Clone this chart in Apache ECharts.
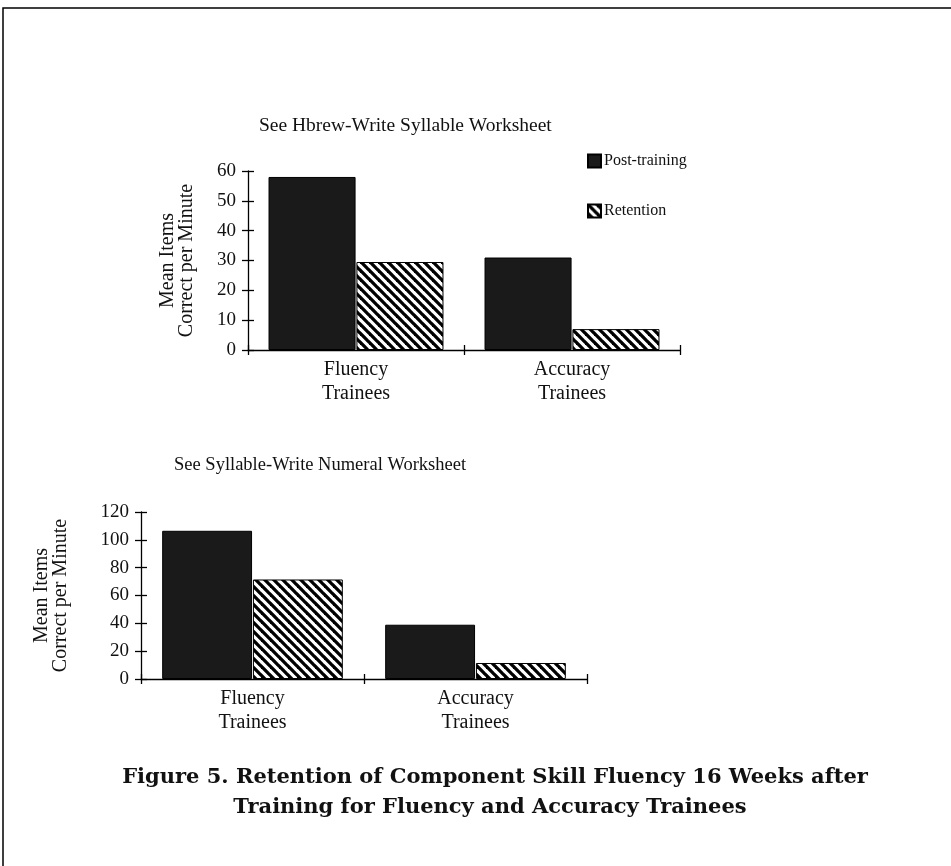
<!DOCTYPE html>
<html>
<head>
<meta charset="utf-8">
<script src="https://cdn.jsdelivr.net/npm/echarts@6/dist/echarts.min.js"></script>
<style>
  html, body { margin: 0; padding: 0; background: #fff; }
  #chart { width: 951px; height: 866px; }
</style>
</head>
<body>
<div id="chart"></div>
<script>
// data
const categories = ['Fluency\nTrainees', 'Accuracy\nTrainees'];
const seriesNames = ['Post-training', 'Retention'];
const hebrewPost = [58, 31];
const hebrewRet = [29.5, 7];
const numeralPost = [106.5, 39];
const numeralRet = [71.5, 11.5];
const hebrewTicks = { min: 0, max: 60, interval: 10 };
const numeralTicks = { min: 0, max: 120, interval: 20 };

const serif = 'Liberation Serif';
const ink = '#111';

// diagonal hatch for the retention bars
function hatch() {
  const s = 9;
  const c = document.createElement('canvas');
  c.width = s; c.height = s;
  const g = c.getContext('2d');
  g.fillStyle = '#fff';
  g.fillRect(0, 0, s, s);
  g.strokeStyle = '#000';
  g.lineWidth = 3.3;
  [-s, 0, s].forEach(function (k) {
    g.beginPath();
    g.moveTo(k - 2, -2);
    g.lineTo(k + s + 2, s + 2);
    g.stroke();
  });
  return { image: c, repeat: 'repeat' };
}
const hatchFill = hatch();
const darkFill = '#1a1a1a';

// two axes per side: one with outer ticks + labels, one with inner ticks, so ticks cross the line
function valueAxes(grid, ticks, nameGap) {
  return [
    {
      gridIndex: grid, type: 'value', position: 'left', min: ticks.min, max: ticks.max, interval: ticks.interval,
      name: 'Mean Items\nCorrect per Minute', nameLocation: 'middle', nameGap: nameGap, nameRotate: 90,
      nameTextStyle: { fontFamily: serif, fontSize: 20, color: ink, lineHeight: 19 },
      axisLine: { show: true, lineStyle: { color: '#000', width: 1.3 } },
      axisTick: { show: true, length: 6, lineStyle: { color: '#000', width: 1.3 } },
      axisLabel: { fontFamily: serif, fontSize: 19, color: ink, margin: 12 },
      splitLine: { show: false }
    },
    {
      gridIndex: grid, type: 'value', position: 'left', min: ticks.min, max: ticks.max, interval: ticks.interval,
      axisLine: { show: false },
      axisTick: { show: true, inside: true, length: 6, lineStyle: { color: '#000', width: 1.3 } },
      axisLabel: { show: false },
      splitLine: { show: false }
    }
  ];
}

function categoryAxes(grid) {
  return [
    {
      gridIndex: grid, type: 'category', position: 'bottom', data: categories,
      axisLine: { show: true, lineStyle: { color: '#000', width: 1.3 } },
      axisTick: { show: true, length: 5, lineStyle: { color: '#000', width: 1.3 } },
      axisLabel: { fontFamily: serif, fontSize: 20, color: ink, lineHeight: 24, margin: 8 }
    },
    {
      gridIndex: grid, type: 'category', position: 'bottom', data: categories,
      axisLine: { show: false },
      axisTick: { show: true, inside: true, length: 5, lineStyle: { color: '#000', width: 1.3 } },
      axisLabel: { show: false }
    }
  ];
}

function bar(name, axis, data, fill) {
  return {
    name: name, type: 'bar', xAxisIndex: axis, yAxisIndex: axis, data: data,
    barGap: '1%', barCategoryGap: '19%',
    itemStyle: { color: fill, borderColor: '#000', borderWidth: 1 },
    emphasis: { disabled: true }
  };
}

var myChart = echarts.init(document.getElementById('chart'));

var option = {
  animation: false,
  backgroundColor: '#fff',
  title: [
    { text: 'See Hbrew-Write Syllable Worksheet', left: 259, top: 116, padding: 0,
      textStyle: { fontFamily: serif, fontSize: 19.5, fontWeight: 'normal', color: ink } },
    { text: 'See Syllable-Write Numeral Worksheet', left: 174, top: 456, padding: 0,
      textStyle: { fontFamily: serif, fontSize: 18.5, fontWeight: 'normal', color: ink } }
  ],
  legend: {
    orient: 'vertical', left: 587, top: 153, padding: 0,
    itemWidth: 13, itemHeight: 13, itemGap: 34,
    icon: 'rect',
    data: seriesNames,
    textStyle: { fontFamily: serif, fontSize: 16, color: ink, padding: [0, 0, 0, -2] },
    selectedMode: false
  },
  grid: [
    { left: 248, right: 951 - 680, top: 171, height: 179 },
    { left: 141, right: 951 - 587, top: 512, height: 167 }
  ],
  xAxis: categoryAxes(0).concat(categoryAxes(1)),
  yAxis: valueAxes(0, hebrewTicks, 52).concat(valueAxes(1, numeralTicks, 71)),
  series: [
    bar(seriesNames[0], 0, hebrewPost, darkFill),
    bar(seriesNames[1], 0, hebrewRet, hatchFill),
    bar(seriesNames[0], 2, numeralPost, darkFill),
    bar(seriesNames[1], 2, numeralRet, hatchFill)
  ],
  graphic: [
    { type: 'rect', silent: true, shape: { x: 3, y: 8, width: 1000, height: 1000 },
      style: { fill: 'none', stroke: '#000', lineWidth: 1.5 } },
    { type: 'text', silent: true, x: 495, y: 778,
      style: { text: 'Figure 5. Retention of Component Skill Fluency 16 Weeks after',
        font: 'bold 21px "DejaVu Serif"', fill: ink, textAlign: 'center', textVerticalAlign: 'middle' } },
    { type: 'text', silent: true, x: 490, y: 808,
      style: { text: 'Training for Fluency and Accuracy Trainees',
        font: 'bold 21px "DejaVu Serif"', fill: ink, textAlign: 'center', textVerticalAlign: 'middle' } }
  ]
};

myChart.setOption(option);
</script>
</body>
</html>
